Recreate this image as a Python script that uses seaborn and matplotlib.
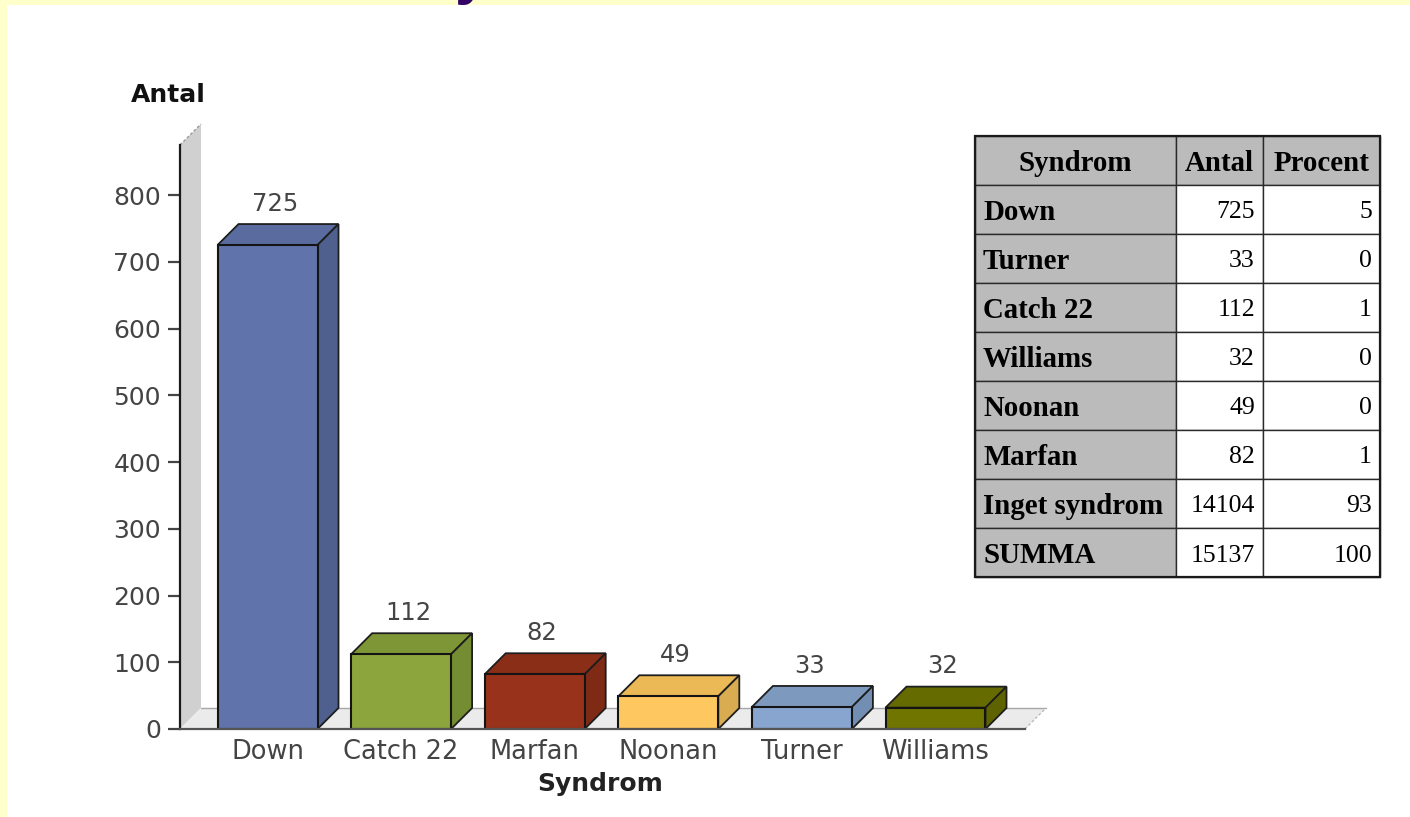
import matplotlib
matplotlib.use("Agg")
import matplotlib.pyplot as plt
from matplotlib.patches import Polygon, Rectangle
from matplotlib.transforms import Affine2D
import pandas as pd
import seaborn as sns

syndromes = ["Down", "Catch 22", "Marfan", "Noonan", "Turner", "Williams"]
counts = [725, 112, 82, 49, 33, 32]
front_colors = ["#6073AB", "#8DA53D", "#98321A", "#FFC75F", "#88A5CF", "#707500"]
top_colors = ["#5A6BA0", "#7E9635", "#8A2E17", "#EBB955", "#7D99BE", "#666B00"]
side_colors = ["#4F5F8E", "#748D33", "#7E2A14", "#D9AC52", "#738EB3", "#5E6300"]
y_ticks = [0, 100, 200, 300, 400, 500, 600, 700, 800]

table_header = ["Syndrom", "Antal", "Procent"]
table_names = ["Down", "Turner", "Catch 22", "Williams", "Noonan", "Marfan", "Inget syndrom", "SUMMA"]
table_counts = [725, 33, 112, 32, 49, 82, 14104, 15137]
table_percent = [5, 0, 1, 0, 0, 1, 93, 100]

W, H = 1410, 817
sns.set_theme(style="white")
plt.rcParams["font.family"] = ["DejaVu Sans"]

fig = plt.figure(figsize=(W / 100, H / 100), dpi=100, facecolor="#FFFFCC")


def px_axes(left, top, right, bottom, **kw):
    return fig.add_axes([left / W, 1 - bottom / H, (right - left) / W, (bottom - top) / H], **kw)


# white page area with the yellow strip left and on top
fig.add_artist(Rectangle((7 / W, 0), 1 - 7 / W, 1 - 5 / H, transform=fig.transFigure,
                         facecolor="white", edgecolor="none", zorder=-5))
# the cut-off heading above the page area
fig.text(472 / W, 1 + 8 / H, "y", color="#330066", fontsize=44, fontweight="bold",
         ha="center", va="baseline", family="Liberation Sans", zorder=-6)

# ---------- chart ----------
PX_X = 133.6
PX_Y = 0.6675
ax = px_axes(180, 145, 1025, 729)
ax.patch.set_alpha(0)
df = pd.DataFrame({"Syndrom": syndromes, "Antal": counts})
sns.barplot(data=df, x="Syndrom", y="Antal", hue="Syndrom", order=syndromes,
            palette=front_colors, legend=False, width=100 / PX_X, ax=ax,
            edgecolor="#141414", linewidth=1.5, saturation=1, zorder=5)
ax.set_xlim((180 - 267.5) / PX_X, (1025 - 267.5) / PX_X)
ax.set_ylim(0, (729 - 145) / PX_Y)
dx, dy = 21 / PX_X, 21 / PX_Y
x0, x1 = ax.get_xlim()
y1 = ax.get_ylim()[1]

# wall and floor
ax.add_patch(Polygon([(x0, 0), (x0 + dx, dy), (x0 + dx, y1 + dy), (x0, y1)], closed=True,
                     facecolor="#D0D0D0", edgecolor="none", zorder=1, clip_on=False))
ax.add_patch(Polygon([(x0, 0), (x0 + dx, dy), (x1 + dx, dy), (x1, 0)], closed=True,
                     facecolor="#EBEBEB", edgecolor="none", zorder=1, clip_on=False))
ax.plot([x0 + dx, x1 + dx], [dy, dy], color="#A8A8A8", lw=1, zorder=2, clip_on=False)
ax.plot([x0, x0 + dx], [y1, y1 + dy], color="#999999", lw=1, ls=(0, (2, 1.5)), zorder=2, clip_on=False)
ax.plot([x1, x1 + dx], [0, dy], color="#BBBBBB", lw=1, ls=(0, (2, 1.5)), zorder=2, clip_on=False)

# depth faces built from the bars seaborn drew
for bar, top_c, side_c, n in zip(ax.patches[:len(counts)], top_colors, side_colors, counts):
    l, r, h = bar.get_x(), bar.get_x() + bar.get_width(), bar.get_height()
    ax.add_patch(Polygon([(l, h), (l + dx, h + dy), (r + dx, h + dy), (r, h)], closed=True,
                         facecolor=top_c, edgecolor="#1E1E1E", lw=1.3, zorder=4, clip_on=False))
    ax.add_patch(Polygon([(r, 0), (r + dx, dy), (r + dx, h + dy), (r, h)], closed=True,
                         facecolor=side_c, edgecolor="#1E1E1E", lw=1.3, zorder=4, clip_on=False))
    ax.annotate(str(n), xy=((l + r) / 2, h + dy), xytext=(5.4, 9.5), textcoords="offset points",
                ha="center", va="baseline", fontsize=17.5, color="#444444", zorder=6)

sns.despine(ax=ax)
ax.spines["left"].set_color("#1A1A1A")
ax.spines["left"].set_linewidth(1.6)
ax.spines["left"].set_zorder(7)
ax.spines["bottom"].set_color("#555555")
ax.spines["bottom"].set_linewidth(1.6)
ax.spines["bottom"].set_zorder(7)
ax.set_yticks(y_ticks)
ax.tick_params(axis="y", length=8.6, width=1.6, color="#444444", pad=5,
               labelsize=18, labelcolor="#444444", left=True)
ax.tick_params(axis="x", length=0, pad=7.5, labelsize=18.5, labelcolor="#444444")
ax.set_xlabel("")
ax.set_ylabel("")
fig.text(168 / W, 1 - 95 / H, "Antal", fontsize=18, fontweight="bold", color="#111111",
         ha="center", va="center")
fig.text(600 / W, 1 - 784 / H, "Syndrom", fontsize=18, fontweight="bold", color="#222222",
         ha="center", va="center")

# ---------- table ----------
tax = px_axes(975, 136, 1380, 577)
tax.axis("off")
col_px = [201, 87, 117]
rows = [[n, f"{c}", f"{p}"] for n, c, p in zip(table_names, table_counts, table_percent)]
tbl = tax.table(cellText=[table_header] + rows, colWidths=[c / sum(col_px) for c in col_px],
                bbox=[0, 0, 1, 1], cellLoc="right")
tbl.auto_set_font_size(False)
text_shift = Affine2D().translate(0, -3)
for (r, c), cell in tbl.get_celld().items():
    cell.set_edgecolor("#2A2A2A")
    cell.set_linewidth(1.0)
    txt = cell.get_text()
    txt.set_family("Liberation Serif")
    txt.set_color("#000000")
    txt.set_transform(text_shift)
    cell.PAD = 8.0 / col_px[c]
    if r == 0 or c == 0:
        cell.set_facecolor("#BBBBBB")
        txt.set_fontweight("bold")
        txt.set_fontsize(20.8)
        txt.set_ha("center" if r == 0 else "left")
        if r == 0:
            cell._loc = "center"
        else:
            cell._loc = "left"
    else:
        cell.set_facecolor("white")
        txt.set_fontsize(18.5)
tax.add_patch(Rectangle((0, 0), 1, 1, transform=tax.transAxes, fill=False,
                        edgecolor="#1A1A1A", lw=1.6, clip_on=False, zorder=10))

fig.savefig("out.png", dpi=100, facecolor=fig.get_facecolor())
